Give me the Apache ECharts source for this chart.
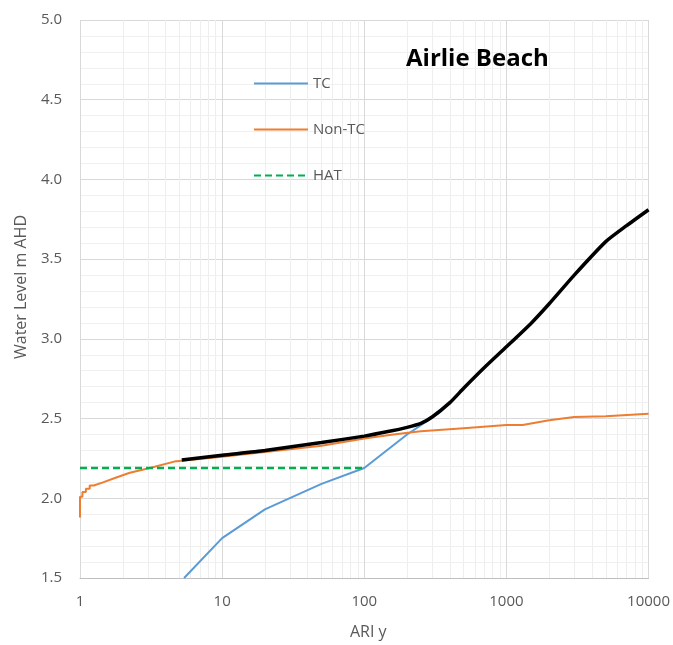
<!DOCTYPE html>
<html>
<head>
<meta charset="utf-8">
<script src="https://cdn.jsdelivr.net/npm/echarts@6/dist/echarts.min.js"></script>
<style>
html,body{margin:0;padding:0;background:#fff;}
#chart{width:673px;height:645px;}
</style>
</head>
<body>
<div id="chart"></div>
<script>
// ---- data ----
const tcAri    = [5.4, 10, 20, 25, 50, 100, 200, 330, 350];
const tcLevel  = [1.50, 1.75, 1.93, 1.97, 2.09, 2.19, 2.40, 2.53, 2.55];

const nonTcAri   = [1, 1, 1.04, 1.04, 1.1, 1.1, 1.17, 1.17, 1.25, 1.45, 1.8, 2.24, 3.1, 4.6, 10, 20, 50, 100, 160, 250, 500, 1000, 1300, 2000, 3000, 5000, 10000];
const nonTcLevel = [1.88, 2.01, 2.01, 2.04, 2.04, 2.06, 2.06, 2.08, 2.08, 2.10, 2.13, 2.16, 2.19, 2.23, 2.26, 2.29, 2.33, 2.375, 2.40, 2.42, 2.44, 2.46, 2.46, 2.49, 2.51, 2.515, 2.53];

const hatAri   = [1, 100];
const hatLevel = [2.19, 2.19];

const combAri   = [5.2, 10, 20, 50, 100, 150, 200, 250, 300, 400, 500, 700, 1000, 1500, 2000, 3000, 5000, 7000, 10000];
const combLevel = [2.24, 2.27, 2.30, 2.35, 2.39, 2.42, 2.445, 2.47, 2.51, 2.60, 2.69, 2.82, 2.95, 3.10, 3.22, 3.40, 3.61, 3.71, 3.81];

const xTicks = [1, 10, 100, 1000, 10000];
const yTicks = [1.5, 2.0, 2.5, 3.0, 3.5, 4.0, 4.5, 5.0];

const pairs = (xs, ys) => xs.map((x, i) => [x, ys[i]]);

// minor log grid positions (2..9 in each decade)
const minorX = [];
for (let d = 1; d < 10000; d *= 10) {
  for (let k = 2; k <= 9; k++) minorX.push({ xAxis: k * d });
}

const FONT = 'Open Sans';
const chart = echarts.init(document.getElementById('chart'));
chart.setOption({
  animation: false,
  backgroundColor: '#ffffff',
  textStyle: { fontFamily: FONT },
  title: {
    text: 'Airlie Beach',
    left: 401, top: 42,
    textStyle: { fontFamily: FONT, fontSize: 24, fontWeight: 'bold', color: '#000000' }
  },
  legend: {
    data: ['TC', 'Non-TC', 'HAT'],
    orient: 'vertical',
    left: 248, top: 71,
    itemWidth: 54, itemHeight: 14, itemGap: 31,
    itemStyle: { opacity: 0 },
    textStyle: { fontFamily: FONT, fontSize: 15, color: '#595959' }
  },
  grid: { left: 80, right: 23, top: 20, bottom: 62, containLabel: false },
  xAxis: {
    type: 'log', logBase: 10, min: xTicks[0], max: xTicks[xTicks.length - 1],
    name: 'ARI y', nameLocation: 'middle', nameGap: 46,
    nameTextStyle: { fontFamily: FONT, fontSize: 16, color: '#595959', padding: [0, 0, 0, 8] },
    axisLine: { show: true, lineStyle: { color: '#bfbfbf', width: 1 } },
    axisTick: { show: false },
    axisLabel: { fontFamily: FONT, fontSize: 15, color: '#595959', margin: 16,
      formatter: v => String(Math.round(v)) },
    splitLine: { show: true, lineStyle: { color: '#d9d9d9', width: 1 } }
  },
  yAxis: {
    type: 'value', min: yTicks[0], max: yTicks[yTicks.length - 1], interval: 0.5,
    name: 'Water Level m AHD', nameLocation: 'middle', nameGap: 51,
    nameTextStyle: { fontFamily: FONT, fontSize: 16, color: '#595959', padding: [0, 0, 0, 24] },
    axisLine: { show: false },
    axisTick: { show: false },
    axisLabel: { fontFamily: FONT, fontSize: 15, color: '#595959', margin: 18,
      formatter: v => v.toFixed(1) },
    splitLine: { show: true, lineStyle: { color: '#d9d9d9', width: 1 } },
    minorTick: { show: false, splitNumber: 5 },
    minorSplitLine: { show: true, lineStyle: { color: '#f0f0f0', width: 1 } }
  },
  series: [
    {
      name: 'minorgrid', type: 'line', data: [], silent: true, z: 0,
      markLine: {
        silent: true, z: 0, symbol: ['none', 'none'], label: { show: false },
        lineStyle: { color: '#eeeeee', width: 1, type: 'solid' },
        emphasis: { disabled: true },
        data: minorX, animation: false
      }
    },
    {
      name: 'TC', type: 'line', data: pairs(tcAri, tcLevel), symbol: 'none', z: 3,
      lineStyle: { color: '#5B9BD5', width: 2 }, itemStyle: { color: '#5B9BD5' }
    },
    {
      name: 'Non-TC', type: 'line', data: pairs(nonTcAri, nonTcLevel), symbol: 'none', z: 3,
      lineStyle: { color: '#ED7D31', width: 2 }, itemStyle: { color: '#ED7D31' }
    },
    {
      name: 'HAT', type: 'line', data: pairs(hatAri, hatLevel), symbol: 'none', z: 4,
      lineStyle: { color: '#00B050', width: 2.5, type: [7, 4] }, itemStyle: { color: '#00B050' }
    },
    {
      name: 'Combined', type: 'line', data: pairs(combAri, combLevel), symbol: 'none', z: 5,
      smooth: 0.2,
      lineStyle: { color: '#000000', width: 3.5 }, itemStyle: { color: '#000000' }
    }
  ]
});
</script>
</body>
</html>
